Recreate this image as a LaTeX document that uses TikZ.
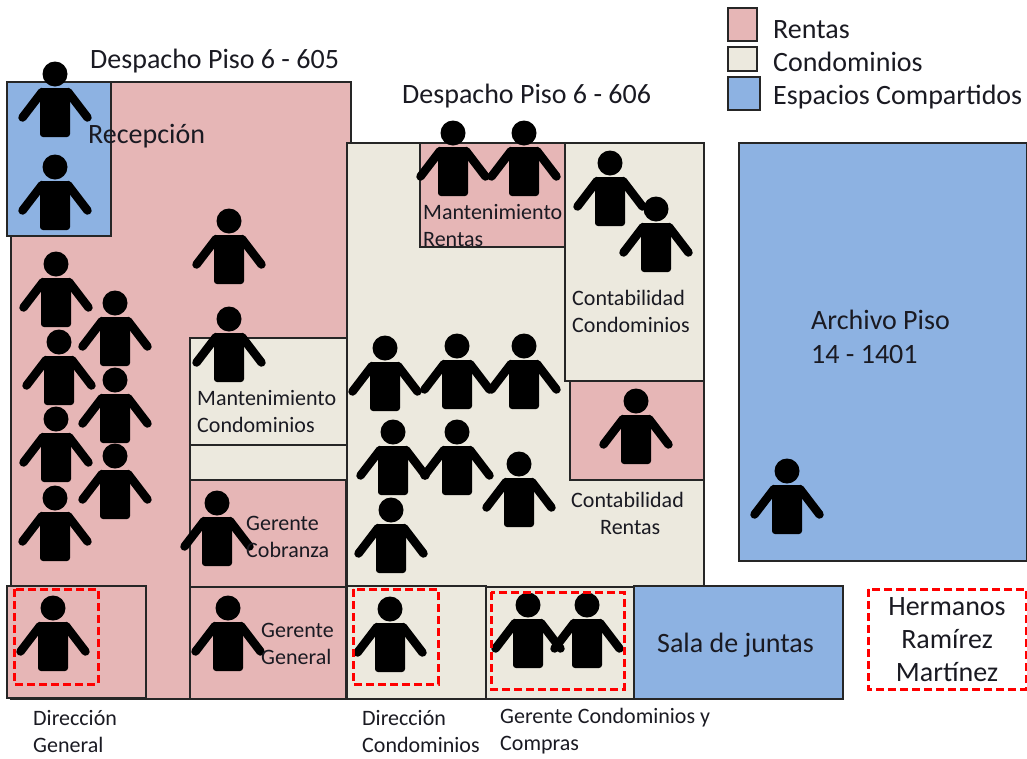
\documentclass[tikz,border=0pt]{standalone}
\usepackage{fontspec}
\setmainfont{Carlito}
\definecolor{rentas}{HTML}{E6B6B6}
\definecolor{condo}{HTML}{ECE9DE}
\definecolor{comp}{HTML}{8DB2E2}
\definecolor{txt}{HTML}{1A1A22}
\tikzset{
  x=1pt,y=-1pt,
  room/.style={draw=black!85,line width=1.1pt},
  rentasroom/.style={room,fill=rentas},
  condoroom/.style={room,fill=condo},
  comproom/.style={room,fill=comp},
  redbox/.style={draw=red,line width=3pt,dash pattern=on 8pt off 4pt},
  big/.style={text=txt,font=\fontsize{28}{34}\selectfont,inner sep=0pt,align=center},
  small/.style={text=txt,font=\fontsize{22}{26.7}\selectfont,inner sep=0pt,align=left},
  person/.pic={
    \fill[black] (0,0) circle (12.5);
    \fill[black,rounded corners=3pt] (-15,14) rectangle (15,63);
    \draw[black,line width=8.5pt,line cap=round] (-13,18) -- (-32.5,43.5) (13,18) -- (32.5,43.5);
  }
}
\begin{document}
\begin{tikzpicture}
\useasboundingbox (0,0) rectangle (1027,758);
% rooms
\draw[rentasroom] (11,82) rectangle (351,699);
\draw[comproom] (7,82) rectangle (111,236);
\draw[condoroom] (347,143) rectangle (704,587);
\draw[rentasroom] (420,143) rectangle (565,247);
\draw[condoroom] (565,143) rectangle (704,381);
\draw[rentasroom] (570,381) rectangle (704,480);
\draw[condoroom] (190,338) rectangle (347,445);
\draw[condoroom] (190,445) rectangle (347,480);
\draw[rentasroom] (190,480) rectangle (346,587);
\draw[rentasroom] (190,587) rectangle (346,699);
\draw[rentasroom] (7,586) rectangle (146,698);
\draw[condoroom] (347,586) rectangle (486,699);
\draw[condoroom] (486,587) rectangle (634,699);
\draw[comproom] (634,586) rectangle (843,699);
\draw[comproom] (739,143) rectangle (1027,561);
% legend
\draw[rentasroom] (728,8) rectangle (757,41);
\draw[condoroom] (728,47) rectangle (757,71);
\draw[comproom] (728,77) rectangle (760,110);
\node[big,anchor=west] (legr) at (773,30) {Rentas};
\node[big,anchor=west] (legc) at (773,62) {Condominios};
\node[big,anchor=west] (lege) at (773,97) {Espacios Compartidos};
% titles
\node[big,anchor=west] (t605) at (90,61) {Despacho Piso 6 - 605};
\node[big,anchor=west] (t606) at (402,96) {Despacho Piso 6 - 606};
% people
\foreach \px/\py in {55/74,55/167,229/221,229/319,56/264,59/342,56/419,55/498,115/303,115/380,115/456,
  217/503,228/608,53/608,453/133,524/133,610/163,656/209,385/348,457/346,524/346,393/432,457/432,519/464,391/510,
  636/401,787/471,390/609,528/605,587/605}
  \pic at (\px,\py) {person};
% labels
\node[big,anchor=west] (recep) at (88,136) {Recepción};
\node[small,anchor=north west] (mrent) at (423,204) {Mantenimiento\\Rentas};
\node[small,anchor=north west] (ccond) at (572,290) {Contabilidad\\Condominios};
\node[small,anchor=north west] (crent) at (571,492) {Contabilidad\\\hspace*{29pt}Rentas};
\node[small,anchor=north west] (mcond) at (197,390) {Mantenimiento\\Condominios};
\node[small,anchor=north west] (gcob) at (246,516) {Gerente\\Cobranza};
\node[small,anchor=north west] (ggen) at (261,623) {Gerente\\General};
\node[small,anchor=north west] (dgen) at (33,710) {Dirección\\General};
\node[small,anchor=north west] (dcond) at (362,710) {Dirección\\Condominios};
\node[small,anchor=north west] (gcomp) at (500,708) {Gerente Condominios y\\Compras};
\node[big,anchor=west] (sala) at (657,645) {Sala de juntas};
\node[big,anchor=west] (arch) at (811,320) {Archivo Piso};
\node[big,anchor=west] (arch2) at (811,355) {14 - 1401};
\node[big,font=\fontsize{28}{33}\selectfont] (herm) at (947,640) {Hermanos\\Ramírez\\Martínez};
% dashed boxes
\draw[redbox] (14,589) rectangle (98,684);
\draw[redbox] (353,589) rectangle (438,684);
\draw[redbox] (491,592) rectangle (624,689);
\draw[redbox] (868,589) rectangle (1026,689);
\end{tikzpicture}
\end{document}
